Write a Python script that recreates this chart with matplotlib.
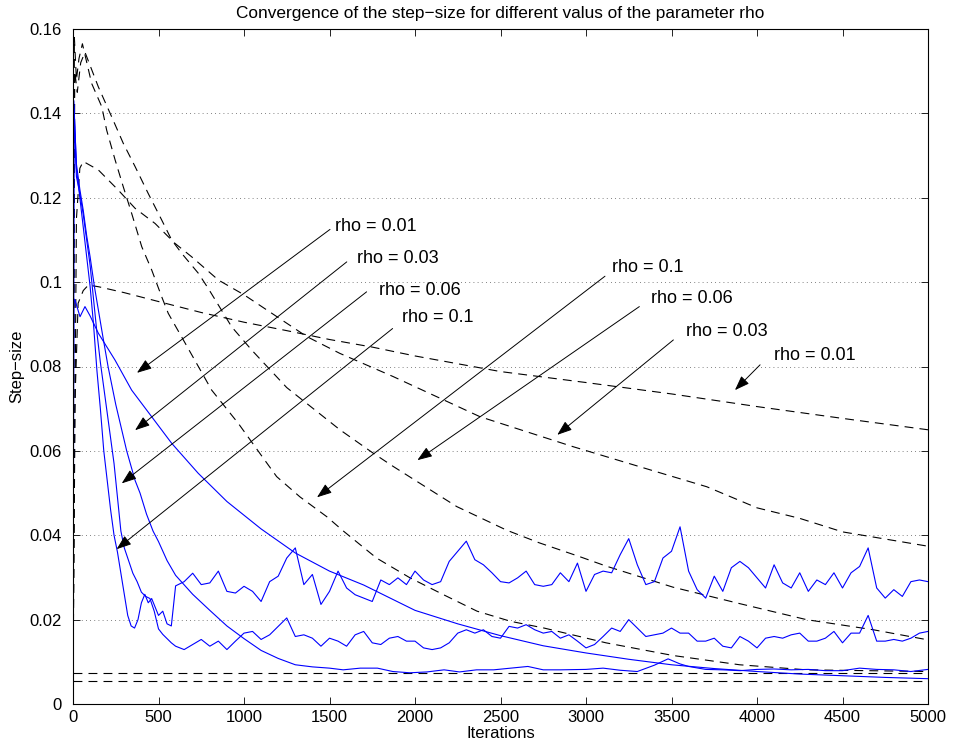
import numpy as np
import matplotlib
matplotlib.use("Agg")
import matplotlib.pyplot as plt
from matplotlib.ticker import FuncFormatter

plt.rcParams["font.family"] = ["Liberation Sans", "DejaVu Sans"]

# ---- blue (solid) step-size curves ----
x_b_rho01 = [0, 5, 20, 40, 60, 80, 100, 120, 140, 160, 180, 200, 220, 240, 260, 280, 300, 320,
             340, 360, 380, 400, 420, 440, 460, 480, 500, 525, 550, 575, 600] + list(range(650, 5001, 50))
y_b_rho01 = [0.0, 0.143, 0.127, 0.120, 0.113, 0.106, 0.099, 0.090, 0.079, 0.070, 0.060, 0.053, 0.046,
             0.040, 0.036, 0.031, 0.026, 0.021, 0.0185, 0.018, 0.020, 0.024, 0.026, 0.024, 0.025, 0.023,
             0.021, 0.022, 0.019, 0.0185, 0.028,
             0.029, 0.031, 0.0283, 0.0287, 0.0315, 0.0267, 0.0263, 0.0279, 0.0267, 0.0243,
             0.029, 0.0303, 0.0346, 0.037, 0.0283, 0.0307, 0.0236, 0.0267, 0.0315, 0.0275,
             0.0259, 0.0251, 0.0243, 0.0294, 0.0283, 0.0299, 0.0283, 0.0315, 0.0294, 0.0283,
             0.029, 0.0338, 0.0362, 0.0386, 0.0342, 0.033, 0.0311, 0.029, 0.0287, 0.0299,
             0.0315, 0.0283, 0.0279, 0.0283, 0.0311, 0.029, 0.0334, 0.0267, 0.0307, 0.0315,
             0.0311, 0.0354, 0.0392, 0.033, 0.0283, 0.029, 0.0346, 0.0362, 0.042, 0.0315,
             0.0271, 0.0251, 0.0303, 0.0267, 0.0323, 0.0338, 0.0323, 0.0299, 0.0275, 0.033,
             0.0287, 0.0275, 0.0311, 0.0267, 0.0294, 0.0283, 0.0311, 0.0275, 0.0311, 0.0326,
             0.037, 0.0275, 0.0251, 0.0271, 0.0255, 0.029, 0.0294, 0.029]

x_b_rho006 = [0, 5, 20, 40, 60, 80, 100, 120, 140, 160, 180, 200, 220, 240, 260, 280, 300, 325,
              350, 375, 400, 425, 450, 475, 500, 525, 550, 575, 600] + list(range(650, 5001, 50))
y_b_rho006 = [0.0, 0.141, 0.125, 0.121, 0.116, 0.110, 0.104, 0.096, 0.088, 0.081, 0.075, 0.069, 0.063,
              0.057, 0.049, 0.041, 0.037, 0.034, 0.031, 0.029, 0.0265, 0.0255, 0.025, 0.022, 0.0178,
              0.0165, 0.0155, 0.0145, 0.0137,
              0.0129, 0.0141, 0.0153, 0.0137, 0.0149, 0.0129, 0.0149, 0.0168, 0.0172, 0.0153,
              0.0164, 0.0184, 0.0204, 0.016, 0.0164, 0.0156, 0.0137, 0.0156, 0.0149, 0.0137,
              0.0164, 0.0172, 0.0145, 0.0141, 0.0156, 0.016, 0.0149, 0.0149, 0.0133, 0.0129,
              0.0133, 0.0145, 0.0168, 0.0176, 0.0168, 0.0176, 0.016, 0.0156, 0.0184, 0.018,
              0.0188, 0.0176, 0.0168, 0.0172, 0.0156, 0.0164, 0.0149, 0.0133, 0.0141, 0.016,
              0.018, 0.0172, 0.020, 0.018, 0.016, 0.0164, 0.0168, 0.018, 0.0168, 0.0168,
              0.0149, 0.0149, 0.0156, 0.0137, 0.0133, 0.016, 0.0149, 0.0133, 0.0156, 0.016,
              0.0156, 0.0164, 0.0168, 0.0149, 0.0149, 0.0156, 0.0172, 0.0145, 0.0168, 0.0168,
              0.021, 0.0149, 0.0149, 0.0153, 0.0149, 0.0156, 0.0168, 0.0172]

x_b_rho003 = [0, 5, 20, 40, 60, 80, 100, 125, 150, 175, 205, 250, 314, 363, 392, 430, 468, 500, 550,
              600, 700, 800, 900, 1000, 1100, 1200, 1300, 1400, 1500, 1580, 1680, 1780, 1870, 1970,
              2070, 2170, 2260, 2360, 2460, 2560, 2660, 2750, 2850, 3000, 3100, 3200, 3300, 3400,
              3480, 3550, 3600, 3700, 3800, 3900, 4000, 4100, 4200, 4300, 4400, 4500, 4600, 4700,
              4800, 4900, 5000]
y_b_rho003 = [0.0, 0.142, 0.128, 0.122, 0.117, 0.111, 0.106, 0.099, 0.093, 0.087, 0.080, 0.071, 0.060,
              0.053, 0.050, 0.045, 0.041, 0.0385, 0.034, 0.0305, 0.026, 0.0222, 0.0185, 0.0155,
              0.0127, 0.0108, 0.0093, 0.0088, 0.0085, 0.0081, 0.0085, 0.0085, 0.0077, 0.0074,
              0.0076, 0.0081, 0.0076, 0.0081, 0.0081, 0.0085, 0.0089, 0.0081, 0.0081, 0.0082,
              0.0085, 0.0080, 0.0077, 0.0092, 0.0107, 0.0095, 0.0089, 0.0082, 0.0081, 0.0079,
              0.0082, 0.0083, 0.0081, 0.0082, 0.0079, 0.0079, 0.0085, 0.0082, 0.0081, 0.0077,
              0.0082]

x_b_rho001 = [0, 5, 12, 41, 70, 100, 148, 246, 343, 460, 577, 732, 900, 1100, 1300, 1500, 1700, 2000,
              2250, 2500, 2750, 3000, 3250, 3500, 3750, 4000, 4250, 4500, 4750, 5000]
y_b_rho001 = [0.0, 0.096, 0.0957, 0.0918, 0.0942, 0.092, 0.0879, 0.0815, 0.0744, 0.0681, 0.0618,
              0.0547, 0.048, 0.0415, 0.0358, 0.0315, 0.0282, 0.0222, 0.019, 0.0162, 0.0138, 0.0121,
              0.0106, 0.0093, 0.0084, 0.0077, 0.0071, 0.0067, 0.0063, 0.006]

# ---- black (dashed) curves ----
x_d_rho01 = [0, 8, 20, 35, 55, 109, 168, 197, 246, 294, 343, 402, 460, 519, 557, 655, 733, 811, 967,
             1100, 1191, 1327, 1484, 1581, 1775, 1971, 2167, 2363, 2559, 2755, 3117, 3508, 3898,
             4289, 5000]
y_d_rho01 = [0.005, 0.158, 0.148, 0.153, 0.1565, 0.1471, 0.1416, 0.136, 0.129, 0.1226, 0.1163,
             0.1084, 0.1029, 0.0965, 0.0926, 0.0856, 0.080, 0.0744, 0.0665, 0.059, 0.0539, 0.0491,
             0.0444, 0.041, 0.0346, 0.0299, 0.0259, 0.022, 0.0196, 0.018, 0.0145, 0.0115, 0.0093,
             0.0081, 0.0077]

x_d_rho006 = [0, 10, 25, 45, 70, 148, 226, 294, 363, 440, 519, 577, 636, 733, 791, 928, 1045, 1250,
              1561, 1754, 1873, 2244, 2536, 2727, 2965, 3117, 3508, 3898, 4289, 4680, 5000]
y_d_rho006 = [0.005, 0.150, 0.145, 0.152, 0.1545, 0.1463, 0.1392, 0.1329, 0.1274, 0.121, 0.1147, 0.110,
              0.1068, 0.1021, 0.0985, 0.0894, 0.0839, 0.075, 0.065, 0.0595, 0.0563, 0.0468, 0.0412,
              0.0382, 0.0349, 0.0327, 0.0277, 0.0238, 0.020, 0.0176, 0.0152]

x_d_rho003 = [0, 20, 40, 60, 148, 265, 363, 480, 596, 694, 850, 1000, 1367, 1561, 1873, 2380, 2924,
              3400, 3706, 4000, 4250, 4500, 5000]
y_d_rho003 = [0.005, 0.115, 0.127, 0.1286, 0.1266, 0.1218, 0.1175, 0.1139, 0.1092, 0.106, 0.1005,
              0.097, 0.0871, 0.0831, 0.0776, 0.0681, 0.061, 0.0552, 0.0515, 0.0465, 0.044, 0.0408,
              0.0374]

x_d_rho001 = [0, 10, 30, 60, 90, 150, 300, 500, 750, 1000, 1250, 1500, 1750, 2000, 2500, 3000, 3500,
              4000, 4500, 5000]
y_d_rho001 = [0.005, 0.070, 0.095, 0.098, 0.0993, 0.0989, 0.0975, 0.0954, 0.0928, 0.0905, 0.0885,
              0.0864, 0.0846, 0.0825, 0.0788, 0.0762, 0.0735, 0.0705, 0.0677, 0.065]

# flat dashed reference levels
x_flat = [0, 5000]
y_flat_hi = [0.0074, 0.0074]
y_flat_lo = [0.0055, 0.0055]

# ---- annotations: label, text pos, arrow tail, arrow tip ----
labels = ["rho = 0.01", "rho = 0.03", "rho = 0.06", "rho = 0.1",
          "rho = 0.1", "rho = 0.06", "rho = 0.03", "rho = 0.01"]
text_xy = [(1530, 0.1132), (1661, 0.1055), (1789, 0.0981), (1924, 0.0915),
           (3150, 0.1035), (3380, 0.0962), (3585, 0.0883), (4100, 0.0826)]
tail_xy = [(1503, 0.1125), (1601, 0.1048), (1717, 0.0977), (1869, 0.0890),
           (3111, 0.1014), (3312, 0.0942), (3511, 0.0863), (4018, 0.0804)]
tip_xy = [(374, 0.0785), (363, 0.0649), (285, 0.0523), (255, 0.0367),
          (1427, 0.0490), (2014, 0.0578), (2832, 0.0638), (3871, 0.0744)]

fig = plt.figure(figsize=(9.54, 7.48), dpi=100)
ax = fig.add_axes([73 / 954, 1 - 704 / 748, 855 / 954, 675 / 748])

dash = (0, (8, 5.5))
for xs, ys in [(x_d_rho01, y_d_rho01), (x_d_rho006, y_d_rho006),
               (x_d_rho003, y_d_rho003), (x_d_rho001, y_d_rho001)]:
    ax.plot(xs, ys, color="k", lw=0.8, linestyle=dash)
ax.plot(x_flat, y_flat_hi, color="k", lw=0.8, linestyle=dash)
ax.plot(x_flat, y_flat_lo, color="k", lw=0.8, linestyle=dash)

for xs, ys in [(x_b_rho01, y_b_rho01), (x_b_rho006, y_b_rho006),
               (x_b_rho003, y_b_rho003), (x_b_rho001, y_b_rho001)]:
    ax.plot(xs, ys, color="#0000ff", lw=0.8)

for lab, txy, tail, tip in zip(labels, text_xy, tail_xy, tip_xy):
    ax.annotate("", xy=tip, xytext=tail,
                arrowprops=dict(arrowstyle="-|>,head_length=0.9,head_width=0.33",
                                color="k", lw=0.7, mutation_scale=10,
                                shrinkA=0, shrinkB=0))
    ax.text(txy[0], txy[1], lab, fontsize=13, ha="left", va="center")

ax.set_xlim(0, 5000)
ax.set_ylim(0, 0.16)
ax.set_xticks(np.arange(0, 5001, 500))
ax.set_yticks(np.arange(0, 0.161, 0.02))
ax.yaxis.set_major_formatter(FuncFormatter(lambda v, p: f"{v:g}"))
ax.tick_params(direction="in", top=True, right=True, length=5, width=0.6,
               labelsize=12)
ax.tick_params(axis="y", pad=8)
ax.tick_params(axis="x", pad=4)
ax.yaxis.grid(True, linestyle=(0, (1, 4)), color="0.35", lw=0.6)
for s in ax.spines.values():
    s.set_linewidth(0.8)

ax.set_title("Convergence of the step\u2212size for different valus of the parameter rho",
             fontsize=12.4, pad=8)
ax.set_xlabel("Iterations", fontsize=12, labelpad=1)
ax.set_ylabel("Step\u2212size", fontsize=12, labelpad=4)

fig.savefig("out.png", dpi=100)
